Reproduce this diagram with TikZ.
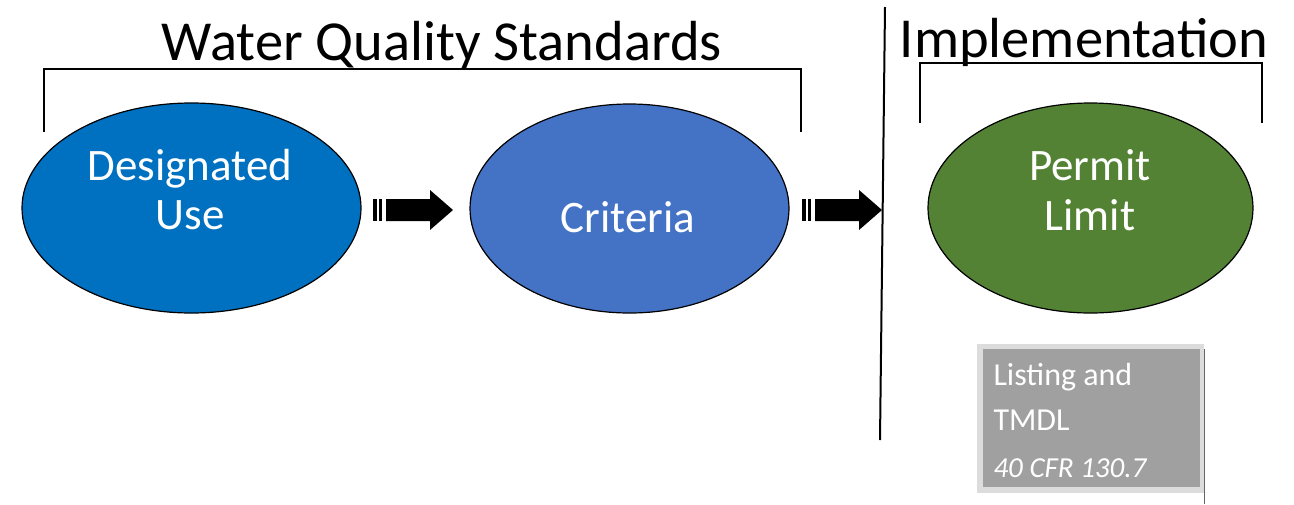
\documentclass[tikz,border=0pt]{standalone}
\usepackage{fontspec}
\setmainfont{Carlito}
\usetikzlibrary{shapes.geometric}
\definecolor{duse}{HTML}{0070C0}
\definecolor{crit}{HTML}{4472C4}
\definecolor{perm}{HTML}{548235}
\definecolor{boxgray}{HTML}{A0A0A0}
\definecolor{boxedge}{HTML}{DCDCDC}
\tikzset{
  oval/.style={ellipse, draw=black, line width=1.2pt, inner sep=0pt},
  ovaltext/.style={text=white, font=\fontsize{45}{50}\selectfont, anchor=base},
  title/.style={font=\fontsize{56.5}{60}\selectfont, anchor=base},
  bracket/.style={line width=2pt, black},
  boxtext/.style={text=white, font=\fontsize{32}{36}\selectfont, anchor=base west},
  pics/blockarrow/.style={code={
    \fill (0,-11) rectangle (4,11);
    \fill (6,-11) rectangle (9,11);
    \fill (13,-11) -- (57,-11) -- (57,-20) -- (80,0) -- (57,20) -- (57,11) -- (13,11) -- cycle;
  }}
}
\begin{document}
\begin{tikzpicture}[x=1pt,y=-1pt]
\useasboundingbox[fill=white] (0,0) rectangle (1294,504);

% titles
\node[title] (wqs) at (442,60) {Water Quality Standards};
\node[title] (impl) at (1084,57) {Implementation};

% brackets
\draw[bracket] (44,132) -- (44,69) -- (801,69) -- (801,132);
\draw[bracket] (920,123) -- (920,63) -- (1262,63) -- (1262,123);

% divider
\coordinate (dtop) at (885,7);
\coordinate (dbot) at (880,440);
\draw[line width=2pt] (dtop) -- (dbot);

% ellipses
\node[oval, fill=duse, minimum width=339pt, minimum height=210pt] (du) at (191.5,208) {};
\node[oval, fill=crit, minimum width=319pt, minimum height=209pt] (cr) at (629.5,208.5) {};
\node[oval, fill=perm, minimum width=325pt, minimum height=210pt] (pl) at (1090.5,208) {};

% ellipse texts
\node[ovaltext] (du1) at (190,180) {Designated};
\node[ovaltext] (du2) at (190,229) {Use};
\node[ovaltext] (cr1) at (628,232) {Criteria};
\node[ovaltext] (pl1) at (1090,180) {Permit};
\node[ovaltext] (pl2) at (1090,230) {Limit};

% block arrows
\pic at (373,210) {blockarrow};
\pic at (802,210) {blockarrow};

% gray box
\fill[boxedge] (977,344) rectangle (1204,493);
\fill[boxgray] (983,349) rectangle (1200,487);
\draw[line width=1.5pt, gray!80!black] (1204.5,349) -- (1204.5,504);
\node[boxtext] (b1) at (990,385) {Listing and};
\node[boxtext] (b2) at (990,430) {TMDL};
\node[boxtext, font=\fontsize{29}{32}\selectfont\itshape] (b3) at (990,477) {40 CFR 130.7};
\end{tikzpicture}
\end{document}
